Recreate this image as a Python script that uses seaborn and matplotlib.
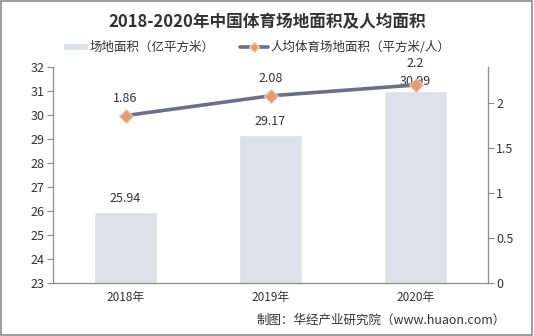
import matplotlib
matplotlib.use("Agg")
import matplotlib.pyplot as plt
import seaborn as sns
import pandas as pd
from matplotlib.patches import Rectangle

years = ["2018年", "2019年", "2020年"]
area = [25.94, 29.17, 30.99]
per_capita = [1.86, 2.08, 2.2]
left_ticks = [23, 24, 25, 26, 27, 28, 29, 30, 31, 32]
right_ticks = [0, 0.5, 1, 1.5, 2]
right_tick_labels = ["0", "0.5", "1", "1.5", "2"]

sns.set_theme(style="white")
plt.rcParams['font.family'] = ['Noto Sans CJK SC', 'DejaVu Sans']
plt.rcParams['axes.unicode_minus'] = False

df = pd.DataFrame({"year": years, "area": area, "pc": per_capita})

fig = plt.figure(figsize=(5.34, 3.36), dpi=100)
ax = fig.add_axes([53/534, 1-283/336, (488-53)/534, (283-67)/336])

bar_color = "#dde1e9"
line_color = "#6b7089"
marker_color = "#e49a72"
axis_color = "#8c8c8c"
text_color = "#333333"

sns.barplot(data=df, x="year", y="area", color=bar_color, width=0.44,
            saturation=1, ax=ax, legend=False)
ax.set_ylim(23, 32)
ax.set_xlim(-0.5, 2.5)
ax.set_yticks(left_ticks)
ax.set_xlabel("")
ax.set_ylabel("")
bar_offsets = [0.3, 0.3, 0.15]
for i, v in enumerate(area):
    ax.text(i, v + bar_offsets[i], f"{v:.2f}", ha="center", va="bottom", fontsize=9,
            color=text_color)

ax2 = ax.twinx()
sns.lineplot(x=[0, 1, 2], y=per_capita, ax=ax2, color=line_color, linewidth=2.6,
             marker="D", markersize=7, markerfacecolor=marker_color,
             markeredgecolor="#f4cdb5", markeredgewidth=0.8)
ax2.set_ylim(0, 2.4)
ax2.set_yticks(right_ticks)
ax2.set_yticklabels(right_tick_labels)
ax2.set_xlim(-0.5, 2.5)
line_offsets = [0.12, 0.12, 0.17]
for i, v in enumerate(per_capita):
    ax2.text(i, v + line_offsets[i], f"{v:g}", ha="center", va="bottom", fontsize=9,
             color=text_color)

# x ticks: labels at centers, tick marks at boundaries
ax.set_xticks([0, 1, 2])
ax.set_xticklabels(years)
ax.set_xticks([-0.5, 0.5, 1.5, 2.5], minor=True)
ax.tick_params(axis="x", which="major", length=0, labelsize=8.5, colors=text_color, pad=6)
ax.tick_params(axis="x", which="minor", length=4, color=axis_color, width=0.8, direction="out")
ax.tick_params(axis="y", length=4, color=axis_color, width=0.8, direction="out",
               labelsize=9, colors=text_color, left=True, pad=2)
ax2.tick_params(axis="y", length=4, color=axis_color, width=0.8, direction="out",
                labelsize=9, colors=text_color, right=True, pad=2)
for a in (ax, ax2):
    a.spines["top"].set_visible(False)
    for s in ["left", "bottom", "right"]:
        a.spines[s].set_color(axis_color)
        a.spines[s].set_linewidth(0.9)
ax.spines["right"].set_visible(False)
ax2.spines["left"].set_visible(False)
ax2.spines["bottom"].set_visible(False)
ax2.set_ylabel("")

fig.text(0.5, 1-22/336, "2018-2020年中国体育场地面积及人均面积", ha="center", va="center",
         fontsize=12, fontweight="bold", color="#333333")

# legend
ly = 1-47/336
fig.patches.append(Rectangle((64/534, ly-3/336), 24/534, 6/336, transform=fig.transFigure,
                             facecolor=bar_color, edgecolor="none"))
fig.text(90/534, ly, "场地面积（亿平方米）", ha="left", va="center", fontsize=9, color=text_color)
fig.lines.append(plt.Line2D([240/534, 254/534, 268/534], [ly, ly, ly], transform=fig.transFigure,
                            color=line_color, linewidth=2.6, marker="D", markersize=5,
                            markevery=[1], markerfacecolor=marker_color,
                            markeredgecolor="#f4cdb5"))
fig.text(270/534, ly, "人均体育场地面积（平方米/人）", ha="left", va="center", fontsize=9, color=text_color)

fig.text(506/534, 1-320/336, "制图：华经产业研究院（www.huaon.com）", ha="right", va="center",
         fontsize=9, color=text_color)

# figure border
fig.patches.append(Rectangle((0.002, 0.003), 0.995, 0.994, transform=fig.transFigure,
                             facecolor="none", edgecolor="#8c8c8c", linewidth=1.2))

fig.savefig("out.png", dpi=100)
